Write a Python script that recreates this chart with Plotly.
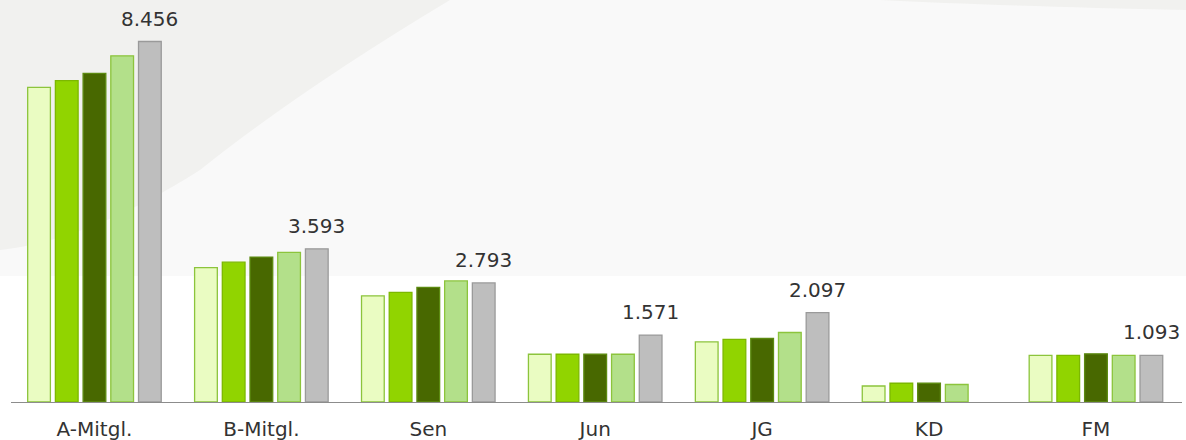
import plotly.graph_objects as go

# Member counts per category, five periods each (KD has no value for the last period)
categories = ["A-Mitgl.", "B-Mitgl.", "Sen", "Jun", "JG", "KD", "FM"]
series_1 = [7380, 3150, 2490, 1120, 1410, 375, 1095]
series_2 = [7540, 3280, 2570, 1120, 1470, 440, 1095]
series_3 = [7710, 3400, 2690, 1120, 1490, 440, 1130]
series_4 = [8120, 3510, 2840, 1120, 1630, 410, 1095]
series_5 = [8456, 3593, 2793, 1571, 2097, None, 1093]

series = [series_1, series_2, series_3, series_4, series_5]
fills = ["#EAFCC2", "#91D400", "#486800", "#B3E08A", "#BEBEBE"]
edges = ["#8CC43C", "#7CB800", "#5C8A10", "#8CC43C", "#9A9A9A"]

W, H = 1186, 440
ML, MR, MT, MB = 11, 4, 0, 38
plot_w = W - ML - MR
plot_h = H - MT - MB
y_max = 9430

fig = go.Figure()
for vals, fc, ec in zip(series, fills, edges):
    fig.add_trace(go.Bar(
        x=categories, y=vals,
        marker=dict(color=fc, line=dict(color=ec, width=1.3)),
        hoverinfo="skip",
    ))

bargap = 0.17
bargroupgap = 0.18

# value labels above the last series, shifted onto its bar within each group
cat_w = plot_w / len(categories)
slot = cat_w * (1 - bargap) / len(series)
shift_last = 2 * slot
annotations = []
for c, v in zip(categories, series_5):
    if v is None:
        continue
    annotations.append(dict(
        x=c, y=v, xref="x", yref="y",
        text=f"{v:,}".replace(",", "."),
        showarrow=False, yanchor="bottom", xanchor="center",
        xshift=shift_last, yshift=9,
        font=dict(family="DejaVu Sans, Verdana, sans-serif", size=20, color="#333333"),
    ))

# soft backdrop: pale band behind the upper area and a grey swoosh at top-left
def px(x):
    return (x - ML) / plot_w

def py(y):
    return (H - MB - y) / plot_h

shapes = [
    dict(type="rect", xref="paper", yref="paper", layer="below",
         x0=px(0), x1=px(W), y0=py(276), y1=py(0),
         fillcolor="#F9F9F9", line=dict(width=0)),
    dict(type="path", xref="paper", yref="paper", layer="below",
         path=(f"M {px(0)},{py(0)} L {px(450)},{py(0)} "
               f"Q {px(300)},{py(90)} {px(200)},{py(170)} "
               f"Q {px(90)},{py(240)} {px(0)},{py(250)} Z"),
         fillcolor="#F1F1EF", line=dict(width=0)),
    dict(type="path", xref="paper", yref="paper", layer="below",
         path=(f"M {px(880)},{py(0)} L {px(W)},{py(0)} L {px(W)},{py(10)} "
               f"Q {px(1000)},{py(6)} {px(880)},{py(0)} Z"),
         fillcolor="#F1F1EF", line=dict(width=0)),
]

fig.update_layout(
    width=W, height=H,
    margin=dict(l=ML, r=MR, t=MT, b=MB),
    barmode="group", bargap=bargap, bargroupgap=bargroupgap,
    paper_bgcolor="white", plot_bgcolor="rgba(0,0,0,0)",
    showlegend=False,
    separators=",.",
    annotations=annotations,
    shapes=shapes,
    font=dict(family="DejaVu Sans, Verdana, sans-serif", color="#333333"),
    xaxis=dict(
        showline=True, linecolor="#8C8C8C", linewidth=1,
        showgrid=False, ticks="outside", ticklen=9, tickcolor="rgba(0,0,0,0)",
        tickfont=dict(size=20, color="#333333"),
        fixedrange=True,
    ),
    yaxis=dict(
        range=[0, y_max], visible=False, showgrid=False, fixedrange=True,
    ),
)

fig.write_html("out.html")
